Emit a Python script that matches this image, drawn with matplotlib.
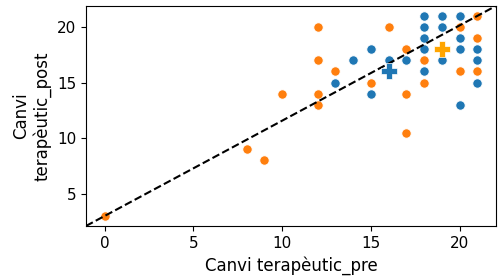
import matplotlib
matplotlib.use("Agg")
import matplotlib.pyplot as plt

# Series 1 (blue)
blue_pre = [13, 14, 15, 15, 16, 17, 18, 18, 18, 18, 18, 19, 19, 19, 20, 20, 20, 20, 21, 21, 21]
blue_post = [15, 17, 18, 14, 17, 17, 21, 20, 19, 18, 16, 21, 20, 17, 21, 19, 18, 13, 18, 17, 15]

# Series 2 (orange)
orange_pre = [0, 8, 9, 10, 12, 12, 12, 12, 13, 15, 16, 17, 17, 17, 18, 18, 20, 20, 21, 21, 21]
orange_post = [3, 9, 8, 14, 20, 17, 14, 13, 16, 15, 20, 18, 14, 10.5, 17, 15, 20, 16, 21, 19, 16]

# Summary markers
blue_center = (16, 16)
orange_center = (19, 18)

x_label = "Canvi terapèutic_pre"
y_label = "Canvi\nterapèutic_post"

fig = plt.figure(figsize=(5, 2.8), dpi=100)
ax = fig.add_axes([0.172, 0.193, 0.82, 0.786])

ax.scatter(blue_pre, blue_post, s=48, color="#1f77b4", edgecolor="white", linewidth=0.8, zorder=2)
ax.scatter(orange_pre, orange_post, s=48, color="#ff7f0e", edgecolor="white", linewidth=0.8, zorder=2)

ax.plot([0, 1], [0, 1], transform=ax.transAxes, color="black", linestyle="--", linewidth=1.5, zorder=3)

ax.plot([blue_center[0]], [blue_center[1]], marker="P", markersize=12, color="#1f77b4",
        markeredgecolor="white", markeredgewidth=0.5, linestyle="none", zorder=4)
ax.plot([orange_center[0]], [orange_center[1]], marker="P", markersize=12, color="orange",
        markeredgecolor="white", markeredgewidth=0.5, linestyle="none", zorder=4)

ax.set_xlim(-1.05, 22.05)
ax.set_ylim(2.1, 21.9)
ax.set_xticks([0, 5, 10, 15, 20])
ax.set_yticks([5, 10, 15, 20])
ax.tick_params(labelsize=11)
ax.set_xlabel(x_label, fontsize=12)
ax.set_ylabel(y_label, fontsize=12)

fig.savefig("out.png", dpi=100)
